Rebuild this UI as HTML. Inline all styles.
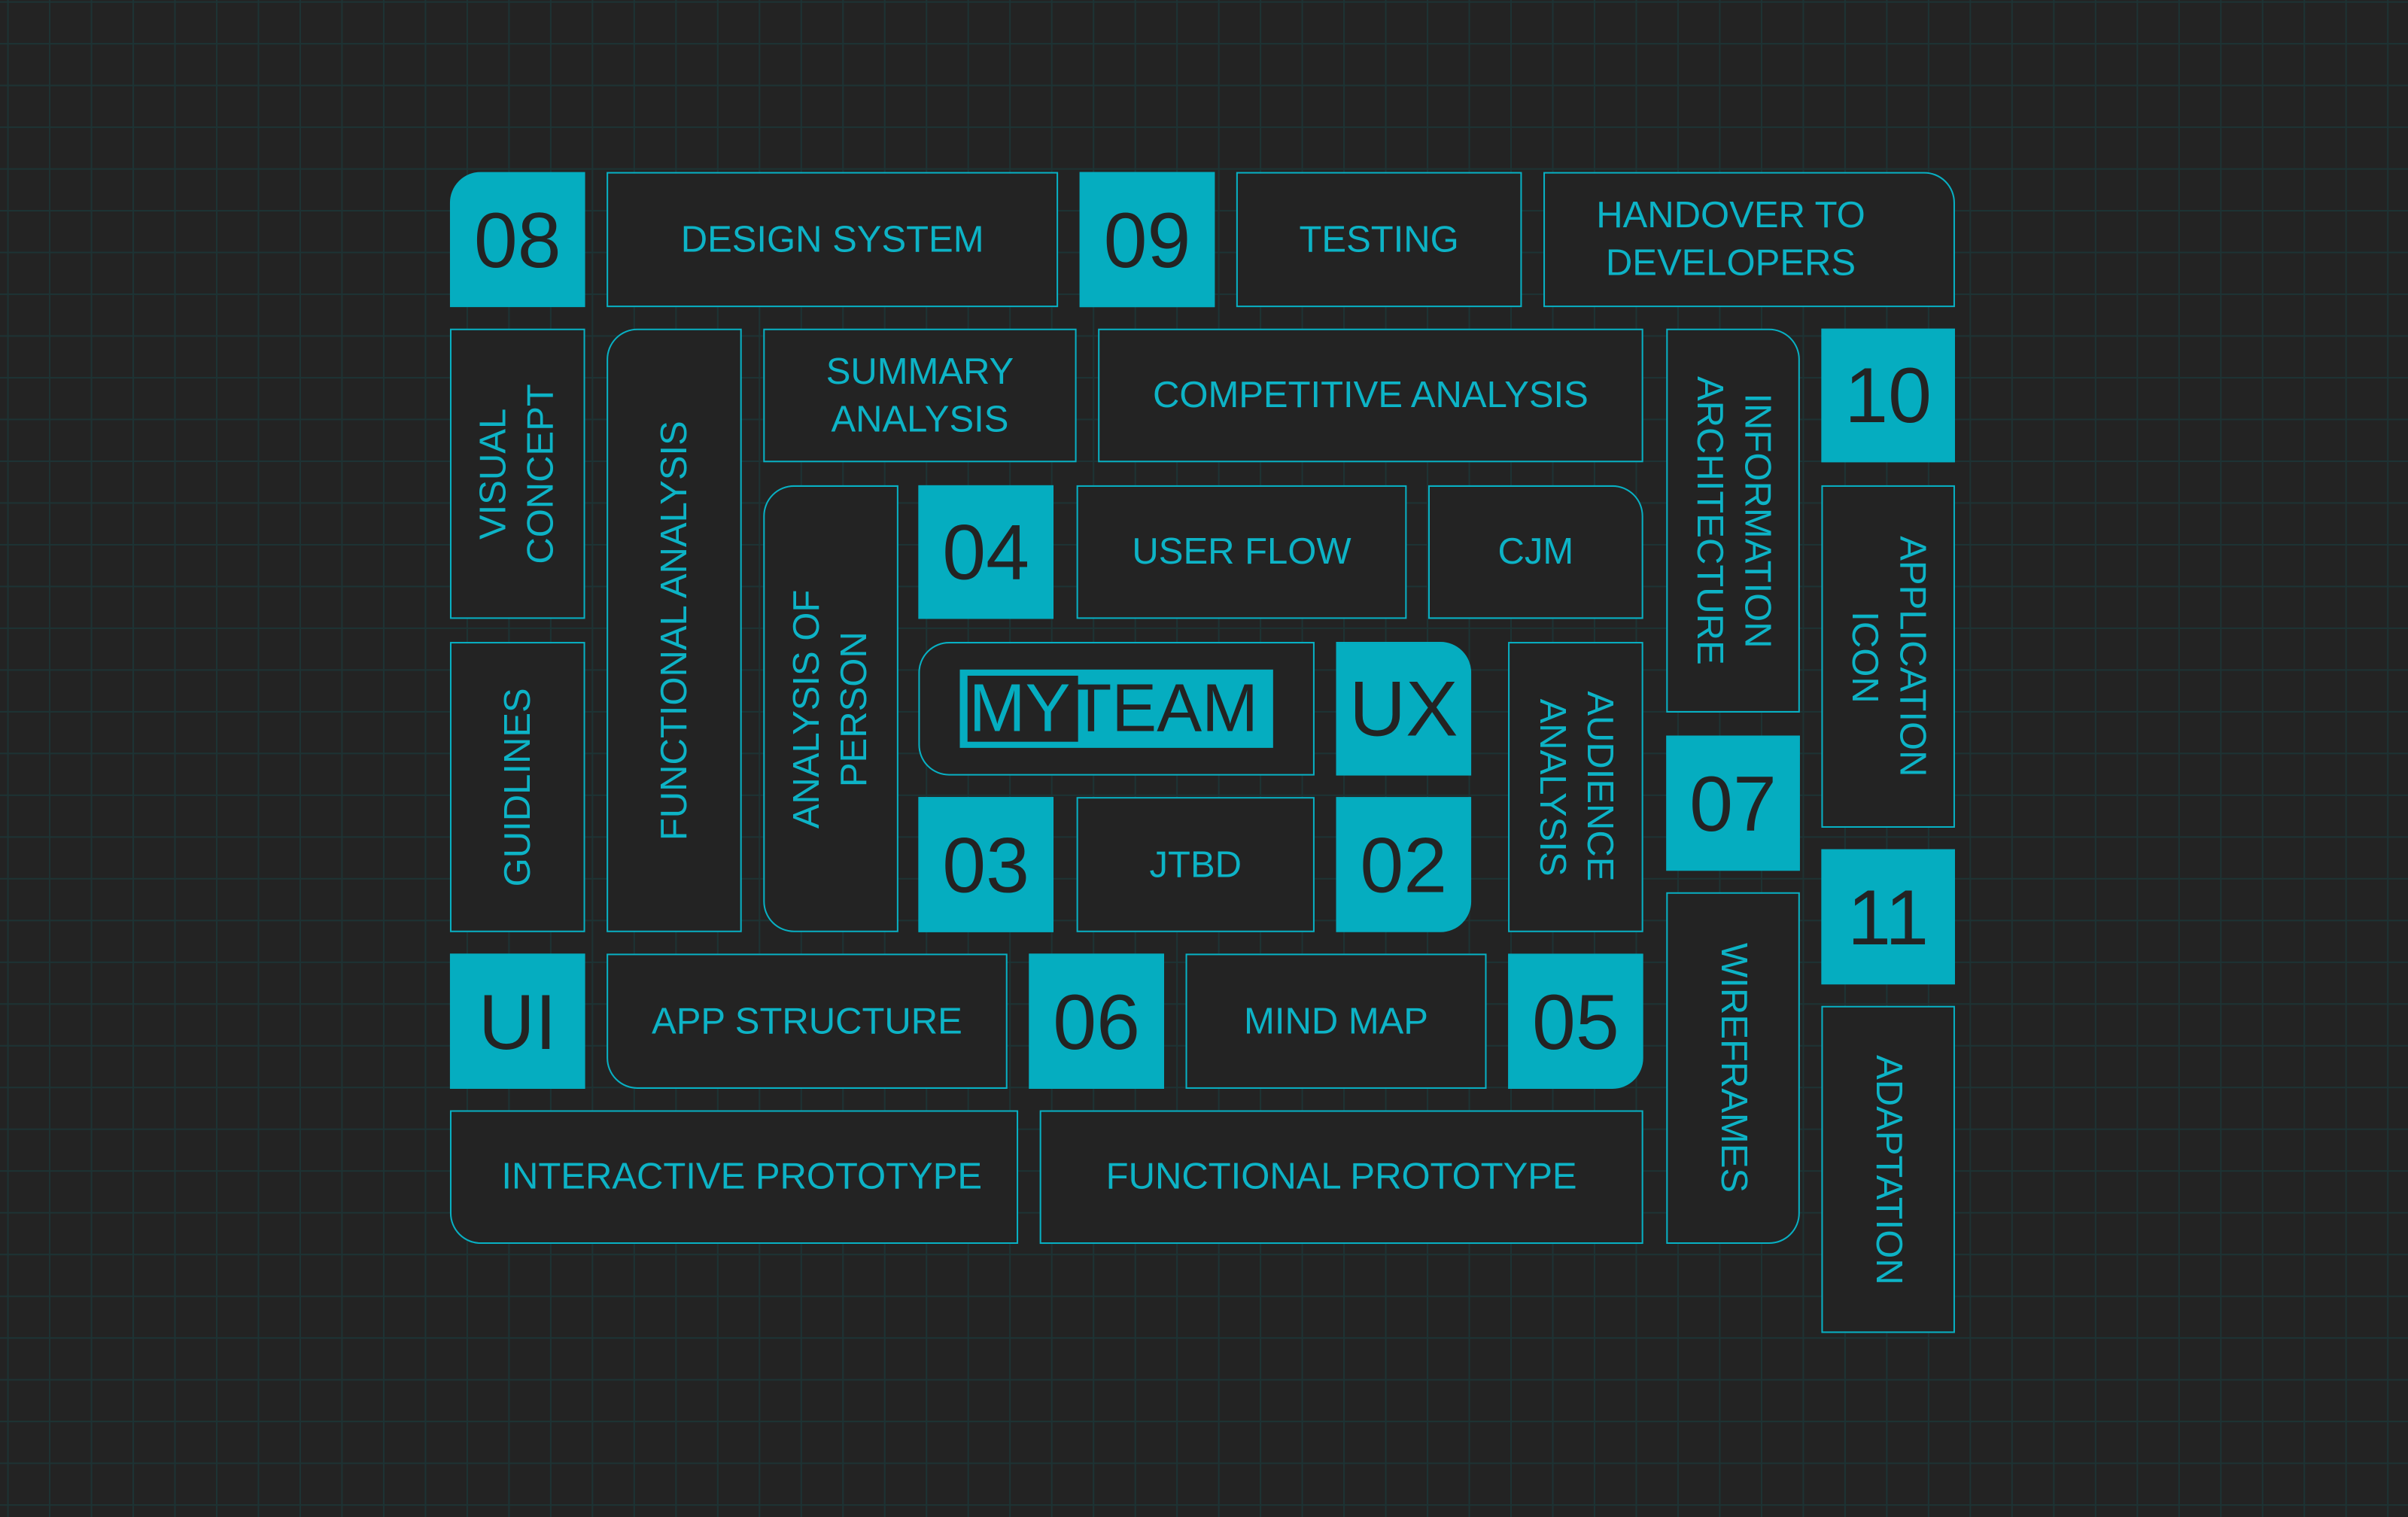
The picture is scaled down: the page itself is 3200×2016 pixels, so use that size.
<!DOCTYPE html>
<html><head><meta charset="utf-8">
<style>
html,body{margin:0;padding:0;background:#232323;overflow:hidden;width:3200px;height:2016px}
#s{position:absolute;left:0;top:0;width:1568px;height:988px;transform:scale(2.040816);transform-origin:0 0;
background-color:#232323;
background-image:linear-gradient(to right,#1d3334 1px,transparent 1px),linear-gradient(to bottom,#1d3334 1px,transparent 1px);
background-size:27.2px 27.2px;background-position:4.7px 0.8px;
font-family:"Liberation Sans",sans-serif;}
.b{position:absolute;box-sizing:border-box;border:1.3px solid #08b0c3;background:#232323;color:#0db3c6;
display:flex;align-items:center;justify-content:center;text-align:center;font-size:24px;line-height:31px;letter-spacing:0}
.f{background:#05adc0;border-color:#05adc0;color:#232323;font-size:51px;letter-spacing:0}
.cw{writing-mode:vertical-rl}
.ccw{writing-mode:vertical-rl;transform:rotate(180deg)}
</style></head><body><div id="s">
<div class="b f" style="left:293px;top:112px;width:88px;height:88px;border-top-left-radius:20px">08</div>
<div class="b" style="left:395px;top:112px;width:294px;height:88px">DESIGN SYSTEM</div>
<div class="b f" style="left:703px;top:112px;width:88px;height:88px">09</div>
<div class="b" style="left:805px;top:112px;width:186px;height:88px">TESTING</div>
<div class="b" style="left:1005px;top:112px;width:268px;height:88px;border-top-right-radius:20px;padding-right:24px">HANDOVER TO<br>DEVELOPERS</div>

<div class="b" style="left:293px;top:214px;width:88px;height:189px"><span class="ccw">VISUAL<br>CONCEPT</span></div>
<div class="b" style="left:395px;top:214px;width:88px;height:393px;border-top-left-radius:20px"><span class="ccw">FUNCTIONAL ANALYSIS</span></div>
<div class="b" style="left:497px;top:214px;width:204px;height:87px">SUMMARY<br>ANALYSIS</div>
<div class="b" style="left:715px;top:214px;width:355px;height:87px">COMPETITIVE ANALYSIS</div>
<div class="b" style="left:1085px;top:214px;width:87px;height:250px;border-top-right-radius:20px"><span class="cw">INFORMATION<br>ARCHITECTURE</span></div>
<div class="b f" style="left:1186px;top:214px;width:87px;height:87px">10</div>

<div class="b" style="left:497px;top:316px;width:88px;height:291px;border-top-left-radius:20px;border-bottom-left-radius:20px"><span class="ccw">ANALYSIS OF<br>PERSON</span></div>
<div class="b f" style="left:598px;top:316px;width:88px;height:87px">04</div>
<div class="b" style="left:701px;top:316px;width:215px;height:87px">USER FLOW</div>
<div class="b" style="left:930px;top:316px;width:140px;height:87px;border-top-right-radius:20px">CJM</div>
<div class="b" style="left:1186px;top:316px;width:87px;height:223px"><span class="cw">APPLICATION<br>ICON</span></div>

<div class="b" style="left:293px;top:418px;width:88px;height:189px"><span class="ccw">GUIDLINES</span></div>
<div class="b" style="left:598px;top:418px;width:258px;height:87px;border-top-left-radius:20px;border-bottom-left-radius:20px"></div>
<div style="position:absolute;left:625px;top:435.5px;width:204px;height:51px;background:#05adc0"></div>
<div style="position:absolute;left:629.5px;top:439.5px;width:72px;height:43px;background:#232323"></div>
<div style="position:absolute;left:631px;top:436px;height:51px;line-height:51px;font-family:'Liberation Sans',sans-serif;font-size:44px;color:#232323;letter-spacing:0"><span style="color:#05adc0">MY</span>TEAM</div>
<div class="b f" style="left:870px;top:418px;width:88px;height:87px;border-top-right-radius:20px">UX</div>
<div class="b" style="left:982px;top:418px;width:88px;height:189px"><span class="cw">AUDIENCE<br>ANALYSIS</span></div>
<div class="b f" style="left:1085px;top:479px;width:87px;height:88px">07</div>

<div class="b f" style="left:598px;top:519px;width:88px;height:88px">03</div>
<div class="b" style="left:701px;top:519px;width:155px;height:88px">JTBD</div>
<div class="b f" style="left:870px;top:519px;width:88px;height:88px;border-bottom-right-radius:20px">02</div>
<div class="b f" style="left:1186px;top:553px;width:87px;height:88px">11</div>

<div class="b f" style="left:293px;top:621px;width:88px;height:88px">UI</div>
<div class="b" style="left:395px;top:621px;width:261px;height:88px;border-bottom-left-radius:20px">APP STRUCTURE</div>
<div class="b f" style="left:670px;top:621px;width:88px;height:88px">06</div>
<div class="b" style="left:772px;top:621px;width:196px;height:88px">MIND MAP</div>
<div class="b f" style="left:982px;top:621px;width:88px;height:88px;border-bottom-right-radius:20px">05</div>
<div class="b" style="left:1085px;top:581px;width:87px;height:229px;border-bottom-right-radius:20px"><span class="cw">WIREFRAMES</span></div>
<div class="b" style="left:1186px;top:655px;width:87px;height:213px"><span class="cw">ADAPTATION</span></div>

<div class="b" style="left:293px;top:723px;width:370px;height:87px;border-bottom-left-radius:20px;padding-left:10px">INTERACTIVE PROTOTYPE</div>
<div class="b" style="left:677px;top:723px;width:393px;height:87px">FUNCTIONAL PROTOTYPE</div>
</div></body></html>
